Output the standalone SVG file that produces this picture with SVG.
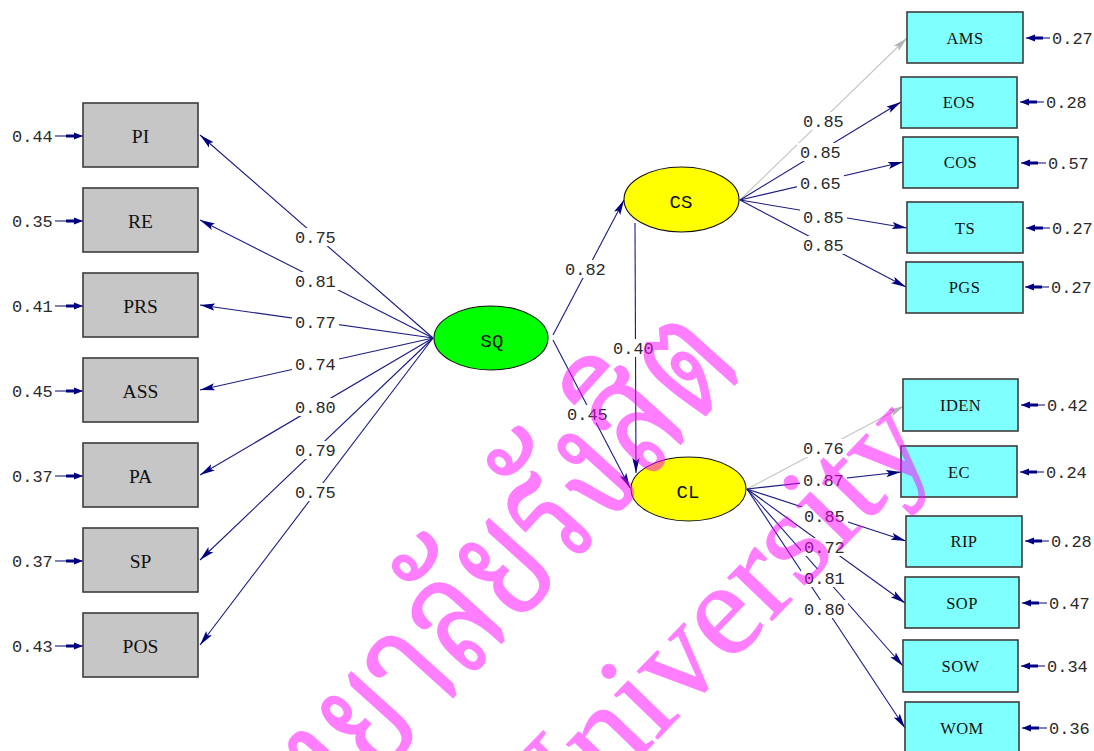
<svg xmlns="http://www.w3.org/2000/svg" width="1094" height="751" viewBox="0 0 1094 751">
  <style>
    .bg { fill: #ffffff; }
    .ln { fill: none; stroke: #1a1a80; stroke-width: 1.1; marker-end: url(#arr); }
    .ln.fix { stroke: #c4c4c4; marker-end: url(#arrg); }
    .er { fill: none; stroke: #1a1a80; stroke-width: 1.1; marker-end: url(#err); }
    .obs-x rect { fill: #c6c6c6; stroke: #3c3c3c; stroke-width: 1.6; }
    .obs-y rect { fill: #80ffff; stroke: #3c3c3c; stroke-width: 1.6; }
    .obs-x text { font-family: "Liberation Serif", serif; font-size: 19.5px; fill: #111; text-anchor: middle; }
    .obs-y text { font-family: "Liberation Serif", serif; font-size: 16.5px; fill: #111; text-anchor: middle; letter-spacing: 0.4px; }
    .lat ellipse { stroke: #111; stroke-width: 1.1; }
    .lat text { font-family: "Liberation Mono", monospace; font-size: 19px; fill: #111; text-anchor: middle; }
    .num { font-family: "Liberation Mono", monospace; font-size: 17px; fill: #2a2a2a; }
    .lb { fill: #ffffff; }
    .wm { fill: #ff00ff; stroke: #ff00ff; opacity: 0.5; text-anchor: end; }
    .wm-th { font-family: "Noto Serif Thai", "Noto Sans Thai", "Liberation Serif", serif; font-size: 165px; stroke-width: 2; }
    .wm-en { font-family: "Liberation Serif", serif; font-size: 135px; stroke-width: 0.8; }
  </style>
  <defs>
    <marker id="arr" markerUnits="userSpaceOnUse" markerWidth="16" markerHeight="9" refX="15" refY="4" orient="auto">
      <path d="M15,4 L0,0.4 L3,4 L0,7.6 Z" fill="#000080"/>
    </marker>
    <marker id="arrg" markerUnits="userSpaceOnUse" markerWidth="16" markerHeight="9" refX="15" refY="4" orient="auto">
      <path d="M15,4 L0,0.4 L3,4 L0,7.6 Z" fill="#b4b4b4"/>
    </marker>
    <marker id="err" markerUnits="userSpaceOnUse" markerWidth="18" markerHeight="9" refX="17" refY="4" orient="auto">
      <path d="M17,4 L8,0.6 L8,2.4 L0,2.4 L0,5.6 L8,5.6 L8,7.4 Z" fill="#000080"/>
    </marker>
  </defs>

  <rect class="bg" x="0" y="0" width="1094" height="751"/>

  <!-- paths, loadings and error arrows -->
  <g id="connectors">
    <!-- SQ to its indicators -->
    <path class="ln" d="M433,338 L200,135"/>
    <path class="ln" d="M433,338 L200,220"/>
    <path class="ln" d="M433,338 L200,305"/>
    <path class="ln" d="M433,338 L200,390"/>
    <path class="ln" d="M433,338 L200,475"/>
    <path class="ln" d="M433,338 L200,560"/>
    <path class="ln" d="M433,338 L200,645"/>
    <!-- structural paths -->
    <path class="ln" d="M553,335 L624,200"/>
    <path class="ln" d="M553,340 L630,488"/>
    <path class="ln" d="M635,223 L636,473"/>
    <!-- CS to its indicators -->
    <path class="ln fix" d="M740,200 L907,38"/>
    <path class="ln" d="M740,200 L901,102"/>
    <path class="ln" d="M740,200 L903,162"/>
    <path class="ln" d="M740,200 L907,228"/>
    <path class="ln" d="M740,200 L906,287"/>
    <!-- CL to its indicators -->
    <path class="ln fix" d="M747,489 L904,406"/>
    <path class="ln" d="M747,489 L901,472"/>
    <path class="ln" d="M747,489 L906,541"/>
    <path class="ln" d="M747,489 L905,603"/>
    <path class="ln" d="M747,489 L903,666"/>
    <path class="ln" d="M747,489 L905,728"/>
    <!-- error terms, left -->
    <path class="er" d="M55,136 L83,136"/>
    <path class="er" d="M55,221 L83,221"/>
    <path class="er" d="M55,306 L83,306"/>
    <path class="er" d="M55,391 L83,391"/>
    <path class="er" d="M55,476 L83,476"/>
    <path class="er" d="M55,561 L83,561"/>
    <path class="er" d="M55,646 L83,646"/>
    <!-- error terms, right -->
    <path class="er" d="M1050,38 L1026,38"/>
    <path class="er" d="M1044,102 L1020,102"/>
    <path class="er" d="M1046,163 L1021,163"/>
    <path class="er" d="M1050,228 L1026,228"/>
    <path class="er" d="M1049,287 L1025,287"/>
    <path class="er" d="M1045,405 L1021,405"/>
    <path class="er" d="M1044,472 L1020,472"/>
    <path class="er" d="M1049,541 L1025,541"/>
    <path class="er" d="M1047,603 L1022,603"/>
    <path class="er" d="M1045,666 L1021,666"/>
    <path class="er" d="M1047,728 L1022,728"/>

    <!-- coefficient labels -->
    <g id="loadings">
      <rect class="lb" x="292" y="228" width="47" height="18"/><text class="num" x="295" y="242.5">0.75</text>
      <rect class="lb" x="292" y="272" width="47" height="18"/><text class="num" x="295" y="286.5">0.81</text>
      <rect class="lb" x="292" y="313" width="47" height="18"/><text class="num" x="295" y="327.5">0.77</text>
      <rect class="lb" x="292" y="355" width="47" height="18"/><text class="num" x="295" y="369.5">0.74</text>
      <rect class="lb" x="292" y="398" width="47" height="18"/><text class="num" x="295" y="412.5">0.80</text>
      <rect class="lb" x="292" y="441" width="47" height="18"/><text class="num" x="295" y="455.5">0.79</text>
      <rect class="lb" x="292" y="483" width="47" height="18"/><text class="num" x="295" y="497.5">0.75</text>

      <rect class="lb" x="562" y="260" width="47" height="18"/><text class="num" x="565" y="274.5">0.82</text>
      <rect class="lb" x="610" y="339" width="47" height="18"/><text class="num" x="613" y="353.5">0.40</text>
      <rect class="lb" x="564" y="405" width="47" height="18"/><text class="num" x="567" y="419.5">0.45</text>

      <rect class="lb" x="800" y="112" width="47" height="18"/><text class="num" x="803" y="126.5">0.85</text>
      <rect class="lb" x="797" y="143" width="47" height="18"/><text class="num" x="800" y="157.5">0.85</text>
      <rect class="lb" x="797" y="174" width="47" height="18"/><text class="num" x="800" y="188.5">0.65</text>
      <rect class="lb" x="800" y="208" width="47" height="18"/><text class="num" x="803" y="222.5">0.85</text>
      <rect class="lb" x="800" y="236" width="47" height="18"/><text class="num" x="803" y="250.5">0.85</text>

      <rect class="lb" x="800" y="439" width="47" height="18"/><text class="num" x="803" y="453.5">0.76</text>
      <rect class="lb" x="800" y="471" width="47" height="18"/><text class="num" x="803" y="485.5">0.87</text>
      <rect class="lb" x="801" y="507" width="47" height="18"/><text class="num" x="804" y="521.5">0.85</text>
      <rect class="lb" x="801" y="538" width="47" height="18"/><text class="num" x="804" y="552.5">0.72</text>
      <rect class="lb" x="801" y="569" width="47" height="18"/><text class="num" x="804" y="583.5">0.81</text>
      <rect class="lb" x="801" y="600" width="47" height="18"/><text class="num" x="804" y="614.5">0.80</text>
    </g>

    <!-- error variances -->
    <g id="errors">
      <text class="num" x="12" y="141.5">0.44</text>
      <text class="num" x="12" y="226.5">0.35</text>
      <text class="num" x="12" y="311.5">0.41</text>
      <text class="num" x="12" y="396.5">0.45</text>
      <text class="num" x="12" y="481.5">0.37</text>
      <text class="num" x="12" y="566.5">0.37</text>
      <text class="num" x="12" y="651.5">0.43</text>

      <text class="num" x="1052" y="43.5">0.27</text>
      <text class="num" x="1046" y="107.5">0.28</text>
      <text class="num" x="1048" y="168.5">0.57</text>
      <text class="num" x="1052" y="233.5">0.27</text>
      <text class="num" x="1051" y="292.5">0.27</text>
      <text class="num" x="1047" y="410.5">0.42</text>
      <text class="num" x="1046" y="477.5">0.24</text>
      <text class="num" x="1051" y="546.5">0.28</text>
      <text class="num" x="1049" y="608.5">0.47</text>
      <text class="num" x="1047" y="671.5">0.34</text>
      <text class="num" x="1049" y="733.5">0.36</text>
    </g>
  </g>

  <!-- exogenous indicators -->
  <g id="PI" class="obs-x"><rect x="83" y="103" width="115" height="64"/><text x="140.5" y="143">PI</text></g>
  <g id="RE" class="obs-x"><rect x="83" y="188" width="115" height="64"/><text x="140.5" y="228">RE</text></g>
  <g id="PRS" class="obs-x"><rect x="83" y="273" width="115" height="64"/><text x="140.5" y="313">PRS</text></g>
  <g id="ASS" class="obs-x"><rect x="83" y="358" width="115" height="64"/><text x="140.5" y="398">ASS</text></g>
  <g id="PA" class="obs-x"><rect x="83" y="443" width="115" height="64"/><text x="140.5" y="483">PA</text></g>
  <g id="SP" class="obs-x"><rect x="83" y="528" width="115" height="64"/><text x="140.5" y="568">SP</text></g>
  <g id="POS" class="obs-x"><rect x="83" y="613" width="115" height="64"/><text x="140.5" y="653">POS</text></g>

  <!-- latent variables -->
  <g id="SQ" class="lat"><ellipse cx="491" cy="338" rx="57" ry="32" fill="#00ff00"/><text x="492" y="347">SQ</text></g>
  <g id="CS" class="lat"><ellipse cx="681.5" cy="199.5" rx="57.5" ry="32.5" fill="#ffff00"/><text x="681" y="208">CS</text></g>
  <g id="CL" class="lat"><ellipse cx="688.5" cy="489" rx="57.5" ry="32" fill="#ffff00"/><text x="688" y="498">CL</text></g>

  <!-- endogenous indicators -->
  <g id="AMS" class="obs-y"><rect x="907" y="12" width="116" height="51"/><text x="965" y="44">AMS</text></g>
  <g id="EOS" class="obs-y"><rect x="901" y="77" width="116" height="51"/><text x="959" y="108">EOS</text></g>
  <g id="COS" class="obs-y"><rect x="903" y="137" width="115" height="51"/><text x="960.5" y="168">COS</text></g>
  <g id="TS" class="obs-y"><rect x="907" y="202" width="116" height="51"/><text x="965" y="234">TS</text></g>
  <g id="PGS" class="obs-y"><rect x="906" y="262" width="117" height="51"/><text x="964.5" y="293">PGS</text></g>
  <g id="IDEN" class="obs-y"><rect x="903" y="379" width="115" height="52"/><text x="960.5" y="411">IDEN</text></g>
  <g id="EC" class="obs-y"><rect x="901" y="446" width="116" height="51"/><text x="959" y="478">EC</text></g>
  <g id="RIP" class="obs-y"><rect x="906" y="516" width="116" height="51"/><text x="964" y="547">RIP</text></g>
  <g id="SOP" class="obs-y"><rect x="905" y="577" width="114" height="51"/><text x="962" y="609">SOP</text></g>
  <g id="SOW" class="obs-y"><rect x="903" y="640" width="115" height="52"/><text x="960.5" y="672">SOW</text></g>
  <g id="WOM" class="obs-y"><rect x="905" y="702" width="114" height="52"/><text x="962" y="734">WOM</text></g>

  <!-- translucent university watermark -->
  <g id="watermark">
    <text class="wm wm-th" transform="translate(748,368) rotate(-48) scale(0.74,1)">มหาวิทยาลัยรังสิต</text>
    <text class="wm wm-en" transform="translate(937,450) rotate(-46)">University</text>
  </g>
</svg>
